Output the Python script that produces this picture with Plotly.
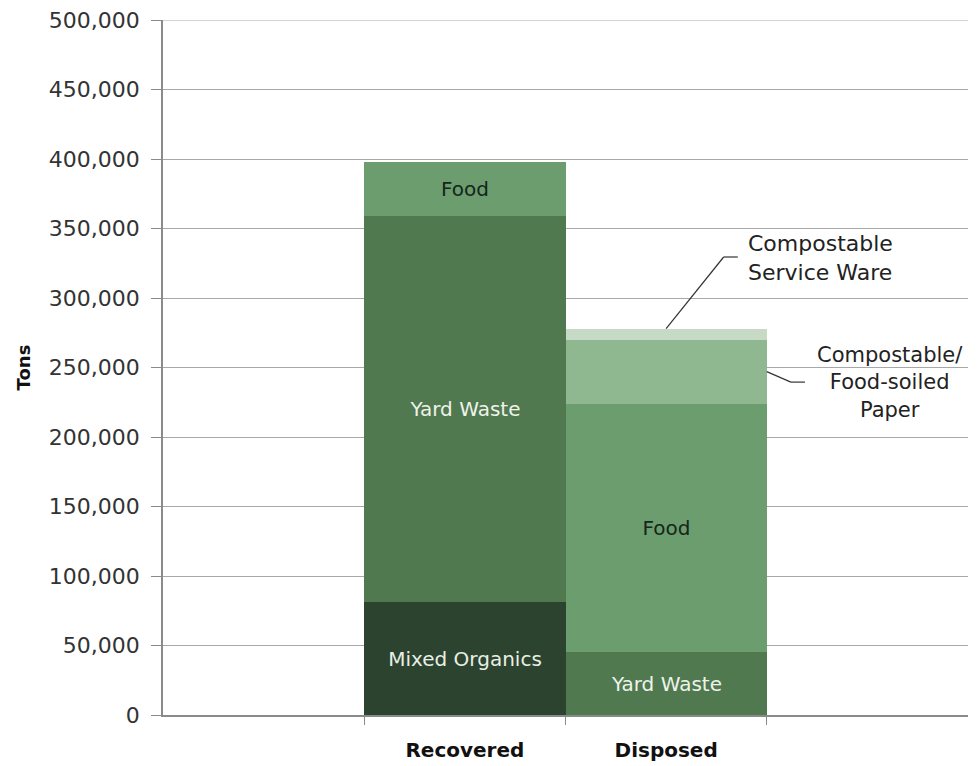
import plotly.graph_objects as go

categories = ["Recovered", "Disposed"]
materials = ["Mixed Organics", "Yard Waste", "Food",
             "Compostable/Food-soiled Paper", "Compostable Service Ware"]
# tons per material for [Recovered, Disposed]
mixed_organics = [81000, 0]
yard_waste = [278000, 45000]
food = [39000, 179000]
paper = [0, 46000]
service_ware = [0, 8000]
y_ticks = list(range(0, 500001, 50000))

values = [mixed_organics, yard_waste, food, paper, service_ware]
colors = ["#2c4330", "#50794f", "#6b9d6e", "#8fb891", "#c6dac6"]
text_colors = ["#e8efe4", "#eef3ea", "#15261a", "#15261a", "#15261a"]
show_inside = [True, True, True, False, False]

FONT = "DejaVu Sans"
fig = go.Figure()
for name, vals, col, tcol, show in zip(materials, values, colors, text_colors, show_inside):
    txt = [(name if (show and v > 0) else "") for v in vals]
    fig.add_trace(go.Bar(
        x=categories, y=vals, name=name,
        marker=dict(color=col, line=dict(width=0)),
        text=txt, texttemplate="%{text}", textposition="inside",
        insidetextanchor="middle", textangle=0, constraintext="none",
        textfont=dict(family=FONT, size=20, color=tcol),
        hoverinfo="skip", showlegend=False,
    ))

# top gridline (plotly omits the one on the range edge)
fig.add_shape(type="line", x0=0, x1=1, xref="paper", y0=y_ticks[-1], y1=y_ticks[-1],
              yref="y", line=dict(color="#a8a8a8", width=1), layer="below")

# leader lines computed from data
disp_total = sum(v[1] for v in values)
paper_mid = yard_waste[1] + food[1] + paper[1] / 2
line_style = dict(color="#333333", width=1.2)
fig.add_shape(type="line", x0=1.0, y0=disp_total, x1=1.286, y1=329500,
              xref="x", yref="y", line=line_style)
fig.add_shape(type="line", x0=1.286, y0=329500, x1=1.356, y1=329500,
              xref="x", yref="y", line=line_style)
fig.add_shape(type="line", x0=1.5, y0=paper_mid, x1=1.62, y1=239500,
              xref="x", yref="y", line=line_style)
fig.add_shape(type="line", x0=1.62, y0=239500, x1=1.69, y1=239500,
              xref="x", yref="y", line=line_style)

fig.add_annotation(x=1.395, y=329000, xref="x", yref="y",
                   text="Compostable<br>Service Ware", showarrow=False,
                   xanchor="left", yanchor="middle", align="left",
                   font=dict(family=FONT, size=22, color="#222222"))
fig.add_annotation(x=2.11, y=239000, xref="x", yref="y",
                   text="Compostable/<br>Food-soiled<br>Paper", showarrow=False,
                   xanchor="center", yanchor="middle", align="center",
                   font=dict(family=FONT, size=21, color="#222222"))

fig.update_layout(
    width=977, height=766,
    barmode="stack", bargap=0,
    plot_bgcolor="white", paper_bgcolor="white",
    margin=dict(l=155, r=17, t=12, b=59),
    font=dict(family=FONT, color="#222222"),
)
fig.update_xaxes(
    type="category", range=[-1.5, 2.5], automargin=False,
    tickson="boundaries", ticks="outside", ticklen=8, tickcolor="#8a8a8a",
    showline=True, linecolor="#8a8a8a", linewidth=1.5,
    showgrid=False, ticklabelstandoff=16,
    tickfont=dict(family=FONT, size=20, color="#111111", weight="bold"),
)
fig.update_yaxes(
    range=[0, 500000], tickvals=y_ticks, automargin=False,
    ticktext=[f"{v:,}" for v in y_ticks],
    ticks="outside", ticklen=10, tickcolor="#8a8a8a",
    showline=True, linecolor="#8a8a8a", linewidth=1.5,
    showgrid=True, gridcolor="#a8a8a8", gridwidth=1,
    zeroline=False, ticklabelstandoff=7, ticklabeloverflow="allow",
    tickfont=dict(family=FONT, size=22, color="#333333"),
    title=dict(text="Tons", font=dict(family=FONT, size=18, color="#111111", weight="bold"),
               standoff=14),
)

fig.write_html("out.html")
